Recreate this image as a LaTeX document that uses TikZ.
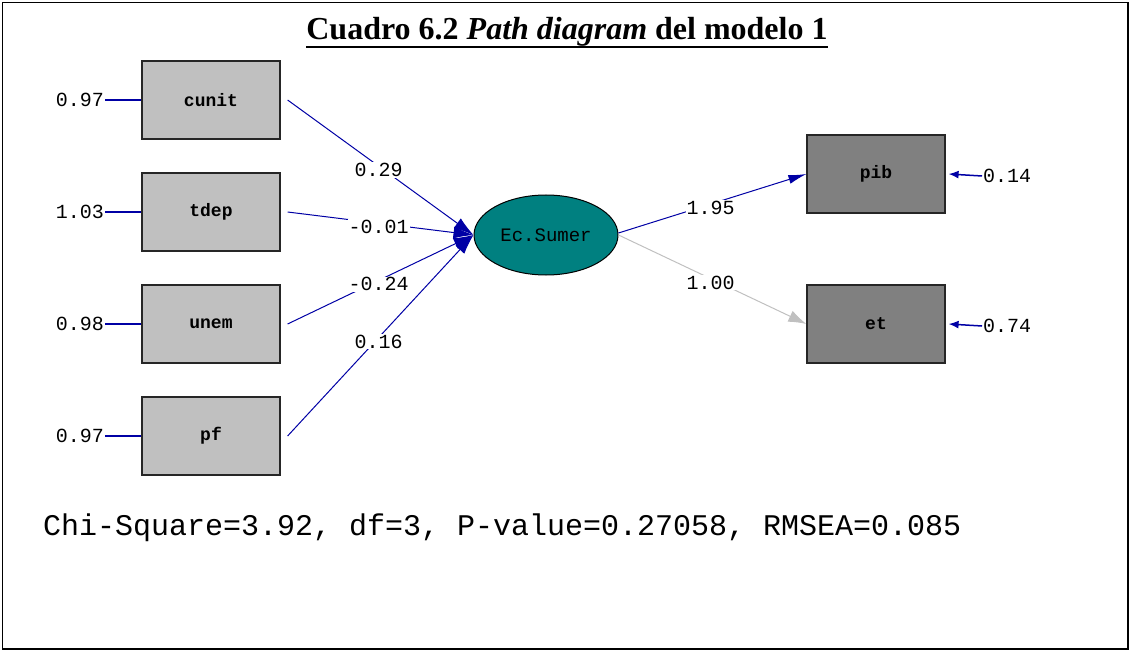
\documentclass[tikz,border=0pt]{standalone}
\usepackage{fontspec}
\setmainfont{Liberation Serif}
\setmonofont{Liberation Mono}
\usepackage{tikz}
\usetikzlibrary{arrows.meta, shapes.geometric}

\definecolor{lisblue}{RGB}{0,0,165}
\definecolor{lisgray}{RGB}{192,192,192}
\definecolor{lisdark}{RGB}{128,128,128}
\definecolor{listeal}{RGB}{0,128,128}

\tikzset{
  obsbox/.style={draw=black!85, line width=1.2pt, fill=lisgray, minimum width=138pt,
    minimum height=78pt, inner sep=0pt, font=\ttfamily\bfseries\fontsize{18}{20}\selectfont},
  endbox/.style={obsbox, fill=lisdark},
  latent/.style={ellipse, draw=black, line width=1pt, fill=listeal, minimum width=144pt,
    minimum height=80pt, inner sep=0pt, font=\ttfamily\fontsize{19}{21}\selectfont},
  numlab/.style={font=\ttfamily\fontsize{20}{22}\selectfont, inner sep=1pt},
  pathlab/.style={numlab, fill=white, pos=0.49, yshift=-4pt},
  semarrow/.style={draw=lisblue, line width=1pt, -{Latex[length=20pt,width=12pt]}},
}

\begin{document}
\begin{tikzpicture}[x=1pt,y=-1pt]
\useasboundingbox (0,0) rectangle (1131,652);

% Frame and title
\draw[line width=1.5pt] (2.5,2.5) rectangle (1128,649);
\node[font=\bfseries\fontsize{32}{34}\selectfont, inner sep=0pt] (title) at (567,32)
  {Cuadro 6.2 \textit{Path diagram} del modelo 1};
\draw[line width=2.5pt] (title.west |- 0,47) -- (title.east |- 0,47);

% Observed variables
\node[obsbox] (cunit) at (211,100) {cunit};
\node[obsbox] (tdep)  at (211,212) {tdep};
\node[obsbox] (unem)  at (211,324) {unem};
\node[obsbox] (pf)    at (211,436) {pf};
\node[latent] (sumer) at (546,235) {Ec.Sumer};
\node[endbox] (pib)   at (876,174) {pib};
\node[endbox] (et)    at (876,324) {et};

% Error variances
\node[numlab, anchor=east] (ecunit) at (105,100) {0.97};
\node[numlab, anchor=east] (etdep)  at (105,212) {1.03};
\node[numlab, anchor=east] (eunem)  at (105,324) {0.98};
\node[numlab, anchor=east] (epf)    at (105,436) {0.97};
\node[numlab, anchor=west] (epib)   at (982,176) {0.14};
\node[numlab, anchor=west] (eet)    at (982,326) {0.74};

\draw[lisblue, line width=1.2pt] (ecunit.east) -- (cunit.west);
\draw[lisblue, line width=1.2pt] (etdep.east) -- (tdep.west);
\draw[lisblue, line width=1.2pt] (eunem.east) -- (unem.west);
\draw[lisblue, line width=1.2pt] (epf.east) -- (pf.west);
\draw[lisblue, line width=1.5pt, -{Latex[length=10pt,width=8pt]}] (epib.west) -- ([xshift=3pt]pib.east);
\draw[lisblue, line width=1.5pt, -{Latex[length=10pt,width=8pt]}] (eet.west) -- ([xshift=3pt]et.east);

% Structural paths
\draw[semarrow] ([xshift=7pt]cunit.east) -- (sumer.west) node[pathlab] {0.29};
\draw[semarrow] ([xshift=7pt]tdep.east) -- (sumer.west) node[pathlab] {-0.01};
\draw[semarrow] ([xshift=7pt]unem.east) -- (sumer.west) node[pathlab] {-0.24};
\draw[semarrow] ([xshift=7pt]pf.east) -- (sumer.west) node[pathlab] {0.16};
\draw[semarrow, -{Latex[length=18pt,width=9pt]}] ([yshift=2pt]sumer.east) -- (pib.west) node[pathlab] {1.95};
\draw[semarrow, draw=lisgray, -{Latex[length=18pt,width=12pt]}] (sumer.east) -- (et.west) node[pathlab] {1.00};

% Fit statistics
\node[font=\ttfamily\fontsize{30}{32}\selectfont, anchor=west, inner sep=0pt] (fit) at (43,528)
  {Chi-Square=3.92, df=3, P-value=0.27058, RMSEA=0.085};

\end{tikzpicture}
\end{document}
